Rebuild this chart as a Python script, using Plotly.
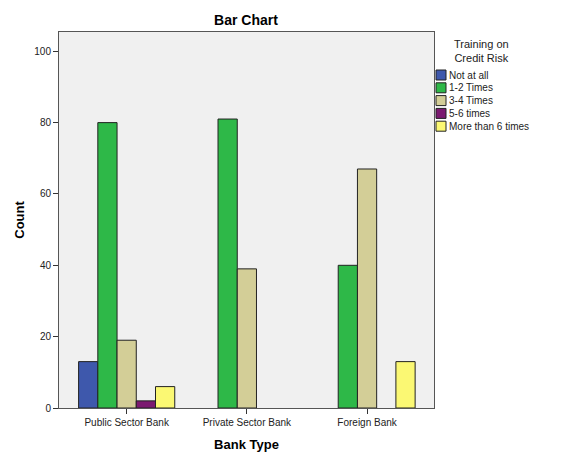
import plotly.graph_objects as go

# categories on x axis
bank_types = ["Public Sector Bank", "Private Sector Bank", "Foreign Bank"]

# counts per training frequency (None = no bar)
not_at_all = [13, None, None]
one_two = [80, 81, 40]
three_four = [19, 39, 67]
five_six = [2, None, None]
more_than_six = [6, None, 13]

series = [
    ("Not at all", not_at_all, "#3E58AC"),
    ("1-2 Times", one_two, "#2EB848"),
    ("3-4 Times", three_four, "#D3CE97"),
    ("5-6 times", five_six, "#7B1A70"),
    ("More than 6 times", more_than_six, "#FBF873"),
]

# page body has an 8px margin, so the figure is a bit smaller than the window
W, H = 572, 456
L, R, T, B = 51, 146, 24, 56
PW, PH = W - L - R, H - T - B


def px_x(x):
    # window pixel -> paper x
    return (x - 8 - L) / PW


def px_y(y):
    # window pixel -> paper y
    return (H - B - (y - 8)) / PH


fig = go.Figure()

for name, vals, col in series:
    fig.add_trace(go.Bar(
        x=bank_types,
        y=vals,
        name=name,
        marker=dict(color=col, line=dict(color="#222222", width=1)),
        showlegend=False,
    ))

# compact SPSS-style legend
shapes = []
annotations = [dict(
    x=px_x(482), y=px_y(51), xref="paper", yref="paper",
    text="Training on<br>Credit Risk", showarrow=False,
    xanchor="center", yanchor="middle",
    font=dict(size=11, color="#222222"),
)]
for i, (name, vals, col) in enumerate(series):
    cy = 75 + i * 12.8
    shapes.append(dict(
        type="rect", xref="paper", yref="paper",
        x0=px_x(436), x1=px_x(446), y0=px_y(cy - 5), y1=px_y(cy + 5),
        fillcolor=col, line=dict(color="#222222", width=1),
    ))
    annotations.append(dict(
        x=px_x(447), y=px_y(cy), xref="paper", yref="paper",
        text=name, showarrow=False, xanchor="left", yanchor="middle",
        font=dict(size=10, color="#222222"),
    ))

fig.update_layout(
    width=W,
    height=H,
    barmode="group",
    bargap=0.2,
    bargroupgap=0,
    paper_bgcolor="white",
    plot_bgcolor="#F0F0F0",
    font=dict(family="Liberation Sans, Arial, sans-serif", size=10, color="#222222"),
    margin=dict(l=L, r=R, t=T, b=B),
    title=dict(
        text="<b>Bar Chart</b>",
        x=(246 - 8) / W,
        xanchor="center",
        y=1 - (20 - 8) / H,
        yanchor="middle",
        font=dict(size=14, color="black"),
    ),
    showlegend=False,
    shapes=shapes,
    annotations=annotations,
)

fig.update_xaxes(
    title=dict(text="<b>Bank Type</b>", font=dict(size=13, color="black"), standoff=12),
    range=[-0.563, 2.557],
    showline=True,
    linecolor="#555555",
    linewidth=1,
    mirror=True,
    ticks="outside",
    ticklen=5,
    tickcolor="#333333",
    showgrid=False,
)

fig.update_yaxes(
    title=dict(text="<b>Count</b>", font=dict(size=13, color="black"), standoff=6),
    range=[0, 105.4],
    tickvals=[0, 20, 40, 60, 80, 100],
    showline=True,
    linecolor="#555555",
    linewidth=1,
    mirror=True,
    ticks="outside",
    ticklen=5,
    tickcolor="#333333",
    showgrid=False,
    zeroline=False,
)

fig.write_html("out.html")
